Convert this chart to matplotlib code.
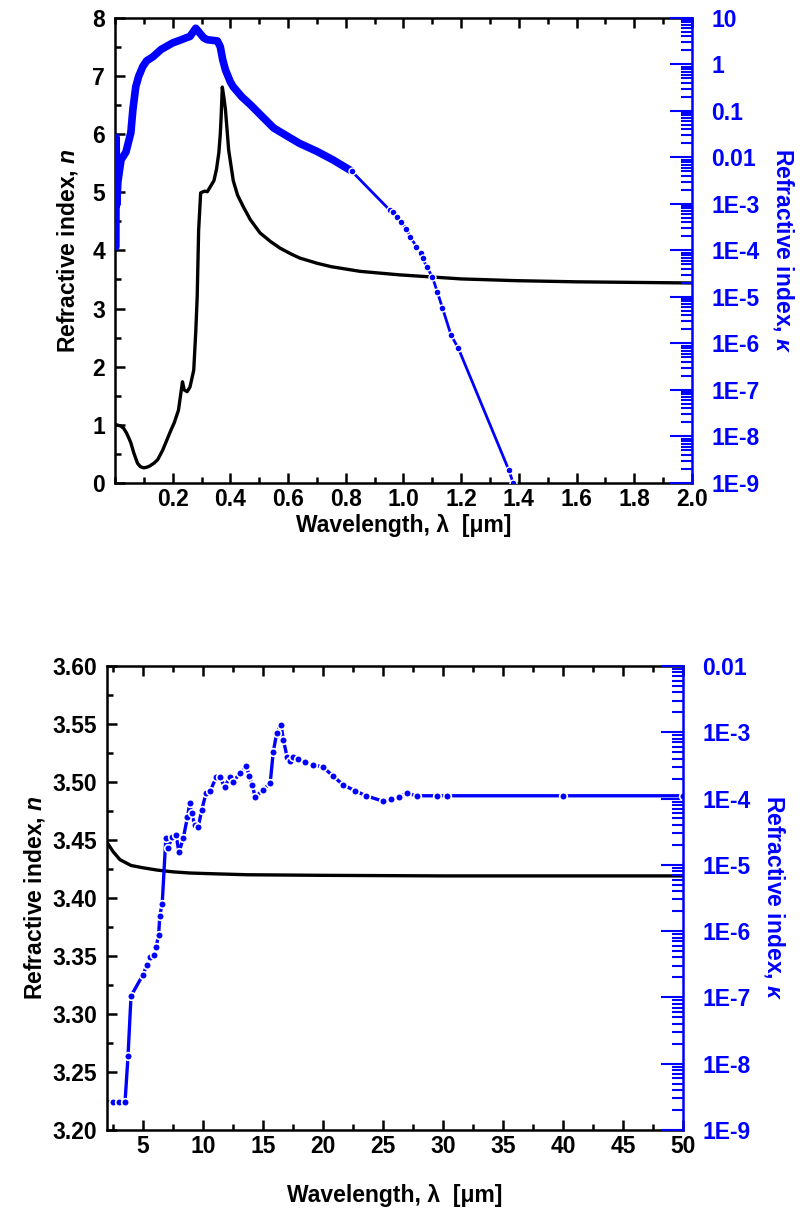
import numpy as np
import matplotlib
matplotlib.use("Agg")
import matplotlib.pyplot as plt
from matplotlib.ticker import FixedLocator, FuncFormatter, MultipleLocator, LogLocator, NullFormatter

plt.rcParams['font.family'] = ['Liberation Sans', 'DejaVu Sans']
plt.rcParams['font.weight'] = 'bold'
plt.rcParams['axes.labelweight'] = 'bold'
plt.rcParams['mathtext.fontset'] = 'custom'
plt.rcParams['mathtext.rm'] = 'Liberation Sans:bold'
plt.rcParams['mathtext.it'] = 'Liberation Sans:italic:bold'

BLUE = '#0000ff'

# ---- top panel: 0 - 2 um ----
wl_n_top = [0.005, 0.02, 0.03, 0.04, 0.05, 0.055, 0.065, 0.078, 0.088, 0.10, 0.11,
            0.12, 0.135, 0.148, 0.165, 0.18, 0.195, 0.205, 0.22,
            0.234, 0.24, 0.25, 0.26, 0.273, 0.28, 0.285, 0.29, 0.297, 0.31, 0.32,
            0.343, 0.352, 0.36, 0.365, 0.368, 0.372, 0.377, 0.383, 0.394, 0.41,
            0.425, 0.445, 0.469, 0.503, 0.54, 0.572, 0.61, 0.64, 0.70, 0.75,
            0.85, 0.986, 1.2, 1.39, 1.6, 1.8, 2.0]
n_top = [1.00, 0.98, 0.94, 0.86, 0.75, 0.69, 0.52, 0.34, 0.28, 0.26, 0.27,
         0.29, 0.34, 0.40, 0.56, 0.74, 0.92, 1.03, 1.25,
         1.74, 1.60, 1.57, 1.65, 1.94, 2.6, 3.2, 4.35, 4.99, 5.02, 5.01,
         5.20, 5.40, 5.68, 6.00, 6.30, 6.81, 6.65, 6.42, 5.73, 5.20,
         4.95, 4.75, 4.53, 4.30, 4.15, 4.04, 3.94, 3.87, 3.78, 3.72,
         3.64, 3.58, 3.51, 3.48, 3.46, 3.45, 3.44]

# kappa, dense UV part (drawn as thick band of points)
wl_k_uv = [0.003, 0.004, 0.006, 0.010, 0.021, 0.038, 0.055, 0.062, 0.072, 0.082,
           0.096, 0.11, 0.131, 0.16, 0.20, 0.23, 0.245, 0.26, 0.28, 0.308,
           0.32, 0.355, 0.365, 0.373, 0.383, 0.40, 0.41, 0.44, 0.47, 0.51,
           0.55, 0.60, 0.64, 0.70, 0.755, 0.82]
k_uv = [1.2e-4, 2.7e-2, 9.5e-4, 3.0e-3, 8.9e-3, 1.3e-2, 3.4e-2, 0.105, 0.33, 0.55,
        0.89, 1.2, 1.45, 2.1, 2.9, 3.4, 3.7, 4.0, 6.0, 3.7,
        3.4, 3.2, 2.4, 1.3, 0.76, 0.42, 0.33, 0.20, 0.135, 0.076,
        0.043, 0.028, 0.020, 0.0135, 8.9e-3, 5.1e-3]

# kappa, sparse near-IR part
wl_k_ir = [0.82, 0.952, 0.962, 0.979, 0.993, 1.01, 1.024, 1.045, 1.059, 1.066,
           1.08, 1.10, 1.117, 1.135, 1.165, 1.19, 1.365, 1.38]
k_ir = [5.1e-3, 7.4e-4, 6.8e-4, 5.2e-4, 4.1e-4, 2.9e-4, 1.95e-4, 1.2e-4, 8.9e-5, 6.9e-5,
        4.5e-5, 2.7e-5, 1.3e-5, 5.8e-6, 1.5e-6, 7.9e-7, 1.9e-9, 1.0e-9]

# ---- bottom panel: 2 - 50 um ----
wl_n_bot = [2.0, 2.5, 3.08, 4.0, 5.0, 6.2, 7.5, 8.9, 11.0, 13.7, 20.0, 30.0, 40.0, 50.0]
n_bot = [3.448, 3.440, 3.433, 3.428, 3.426, 3.424, 3.4225, 3.4215, 3.4208, 3.420,
         3.4195, 3.419, 3.419, 3.419]

wl_k_bot = [2.5, 3.0, 3.5, 3.75, 4.0, 5.0, 5.33, 5.6, 5.9, 6.1, 6.3, 6.4, 6.6,
            6.9, 7.1, 7.4, 7.75, 8.0, 8.35, 8.7, 8.9, 9.05, 9.3, 9.6, 9.9, 10.25,
            10.6, 11.1, 11.4, 11.8, 12.25, 12.5, 13.1, 13.6, 13.85, 14.1, 14.35,
            15.0, 15.6, 15.85, 16.15, 16.5, 16.7, 17.0, 17.25, 17.5, 17.9, 18.5,
            19.2, 20.0, 20.8, 21.7, 22.7, 23.6, 25.0, 25.7, 26.3, 27.0, 27.8,
            29.5, 30.3, 40.0, 50.0]
k_bot = [2.6e-9, 2.6e-9, 2.6e-9, 1.3e-8, 1.05e-7, 2.2e-7, 3.1e-7, 4.1e-7, 4.4e-7, 5.8e-7, 8.7e-7, 1.7e-6, 2.6e-6,
         2.5e-5, 1.8e-5, 2.6e-5, 2.8e-5, 1.55e-5, 2.5e-5, 5.2e-5, 8.5e-5, 6.0e-5, 4.0e-5, 3.7e-5, 6.8e-5, 1.2e-4,
         1.3e-4, 2.1e-4, 2.1e-4, 1.5e-4, 2.1e-4, 1.8e-4, 2.4e-4, 3.1e-4, 2.2e-4, 1.6e-4, 1.05e-4,
         1.35e-4, 1.7e-4, 5.0e-4, 9.8e-4, 1.3e-3, 7.6e-4, 4.3e-4, 3.7e-4, 4.3e-4, 4.0e-4, 3.5e-4,
         3.2e-4, 3.0e-4, 2.2e-4, 1.6e-4, 1.3e-4, 1.1e-4, 9.1e-5, 1.0e-4, 1.05e-4, 1.2e-4, 1.1e-4,
         1.1e-4, 1.1e-4, 1.1e-4, 1.1e-4]

xlabel = 'Wavelength, λ  [μm]'
ylabel_n = 'Refractive index, $n$'
ylabel_k = 'Refractive index, $\\mathit{κ}$'

TICK_FS = 16.5
LABEL_FS = 16.5


def k_fmt(v, pos):
    e = int(round(np.log10(v)))
    if e >= -2:
        return {1: '10', 0: '1', -1: '0.1', -2: '0.01'}[e]
    return f'1E{e}'


def style_axes(ax, ax2, kmin_exp, kmax_exp):
    for s in ax.spines.values():
        s.set_linewidth(1.8)
    ax.spines['right'].set_visible(False)
    ax2.spines['right'].set_color(BLUE)
    ax2.spines['right'].set_linewidth(1.8)
    for s in ['left', 'top', 'bottom']:
        ax2.spines[s].set_visible(False)
    ax.tick_params(which='both', direction='in', top=True, right=False, width=1.8,
                   labelsize=TICK_FS, pad=7)
    ax.tick_params(axis='x', which='both', pad=3.5)
    ax.tick_params(which='major', length=7)
    ax.tick_params(which='minor', length=4)
    ax2.set_yscale('log')
    ax2.set_ylim(10.0 ** kmin_exp, 10.0 ** kmax_exp)
    ax2.yaxis.set_major_locator(FixedLocator([10.0 ** e for e in range(kmin_exp, kmax_exp + 1)]))
    ax2.yaxis.set_major_formatter(FuncFormatter(k_fmt))
    ax2.yaxis.set_minor_locator(LogLocator(base=10, subs=np.arange(2, 10), numticks=30))
    ax2.yaxis.set_minor_formatter(NullFormatter())
    ax2.tick_params(which='both', direction='in', colors=BLUE, width=1.5,
                    labelsize=TICK_FS, pad=14)
    ax2.tick_params(which='major', length=16)
    ax2.tick_params(which='minor', length=8)
    ax.set_xlabel(xlabel, fontsize=LABEL_FS)
    ax.set_ylabel(ylabel_n, fontsize=LABEL_FS)
    ax2.set_ylabel(ylabel_k, fontsize=LABEL_FS, color=BLUE, rotation=270, labelpad=26)


fig = plt.figure(figsize=(8.04, 12.11), dpi=100)

# top panel
ax = fig.add_axes([0.143, 0.6012, 0.7177, 0.384])
ax2 = ax.twinx()
ax.plot(wl_n_top, n_top, color='black', lw=2.4)
ax2.plot(wl_k_uv, k_uv, color=BLUE, lw=5.5, solid_capstyle='round', solid_joinstyle='round')
ax2.plot(wl_k_ir, k_ir, color=BLUE, lw=2.0, marker='o', ms=5, mec='white', mew=1.0, mfc=BLUE)
ax.set_xlim(0, 2.0)
ax.set_ylim(0, 8)
ax.xaxis.set_major_locator(FixedLocator([0.2, 0.4, 0.6, 0.8, 1.0, 1.2, 1.4, 1.6, 1.8, 2.0]))
ax.xaxis.set_major_formatter(FuncFormatter(lambda v, p: f'{v:.1f}'))
ax.xaxis.set_minor_locator(MultipleLocator(0.1))
ax.yaxis.set_major_locator(MultipleLocator(1))
ax.yaxis.set_minor_locator(MultipleLocator(0.5))
style_axes(ax, ax2, -9, 1)
ax.yaxis.labelpad = 9
ax.xaxis.labelpad = 2
ax2.set_zorder(ax.get_zorder() + 1)

# bottom panel
bx = fig.add_axes([0.1331, 0.0669, 0.7164, 0.3832])
bx2 = bx.twinx()
bx.plot(wl_n_bot, n_bot, color='black', lw=2.4)
bx2.plot(wl_k_bot, k_bot, color=BLUE, lw=2.4, marker='o', ms=5.5, mec='white', mew=1.2, mfc=BLUE)
bx.set_xlim(2, 50)
bx.set_ylim(3.20, 3.60)
bx.xaxis.set_major_locator(MultipleLocator(5))
bx.xaxis.set_minor_locator(MultipleLocator(2.5))
bx.yaxis.set_major_locator(MultipleLocator(0.05))
bx.yaxis.set_minor_locator(MultipleLocator(0.025))
bx.yaxis.set_major_formatter(FuncFormatter(lambda v, p: f'{v:.2f}'))
style_axes(bx, bx2, -9, -2)
bx.yaxis.labelpad = 4
bx.xaxis.labelpad = 19

fig.savefig('out.png', dpi=100)
